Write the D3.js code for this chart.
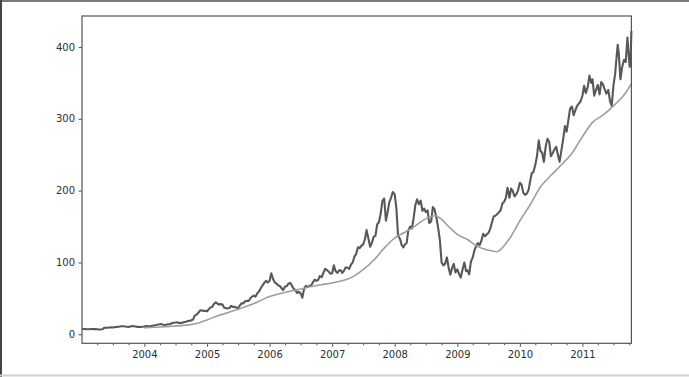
<!DOCTYPE html>
<html>
<head>
<meta charset="utf-8">
<script src="https://cdn.jsdelivr.net/npm/d3@7"></script>
<style>
    html, body { margin: 0; padding: 0; background: #fff; }
    svg { display: block; }
    .axis text { font-family: "DejaVu Sans", sans-serif; font-size: 10px; fill: #2e2e2e; }
    .axis line { stroke: #555; }
</style>
</head>
<body>
<svg class="chart"></svg>
<script>
'use strict';

var CHART_WIDTH = 689;
var CHART_HEIGHT = 377;
var CHART_MARGIN = { top: 16, right: 57.6, bottom: 33.7, left: 82 };

// closing price (three samples a month)
var priceDates = [
    "2003-01-02","2003-01-11","2003-01-21","2003-02-01","2003-02-11","2003-02-21","2003-03-01","2003-03-11","2003-03-21","2003-04-01","2003-04-11","2003-04-21",
    "2003-05-01","2003-05-11","2003-05-21","2003-06-01","2003-06-11","2003-06-21","2003-07-01","2003-07-11","2003-07-21","2003-08-01","2003-08-11","2003-08-21",
    "2003-09-01","2003-09-11","2003-09-21","2003-10-01","2003-10-11","2003-10-21","2003-11-01","2003-11-11","2003-11-21","2003-12-01","2003-12-11","2003-12-21",
    "2004-01-01","2004-01-11","2004-01-21","2004-02-01","2004-02-11","2004-02-21","2004-03-01","2004-03-11","2004-03-21","2004-04-01","2004-04-11","2004-04-21",
    "2004-05-01","2004-05-11","2004-05-21","2004-06-01","2004-06-11","2004-06-21","2004-07-01","2004-07-11","2004-07-21","2004-08-01","2004-08-11","2004-08-21",
    "2004-09-01","2004-09-11","2004-09-21","2004-10-01","2004-10-11","2004-10-21","2004-11-01","2004-11-11","2004-11-21","2004-12-01","2004-12-11","2004-12-21",
    "2005-01-01","2005-01-11","2005-01-21","2005-02-01","2005-02-11","2005-02-21","2005-03-01","2005-03-11","2005-03-21","2005-04-01","2005-04-11","2005-04-21",
    "2005-05-01","2005-05-11","2005-05-21","2005-06-01","2005-06-11","2005-06-21","2005-07-01","2005-07-11","2005-07-21","2005-08-01","2005-08-11","2005-08-21",
    "2005-09-01","2005-09-11","2005-09-21","2005-10-01","2005-10-11","2005-10-21","2005-11-01","2005-11-11","2005-11-21","2005-12-01","2005-12-11","2005-12-21",
    "2006-01-01","2006-01-11","2006-01-21","2006-02-01","2006-02-11","2006-02-21","2006-03-01","2006-03-11","2006-03-21","2006-04-01","2006-04-11","2006-04-21",
    "2006-05-01","2006-05-11","2006-05-21","2006-06-01","2006-06-11","2006-06-21","2006-07-01","2006-07-11","2006-07-21","2006-08-01","2006-08-11","2006-08-21",
    "2006-09-01","2006-09-11","2006-09-21","2006-10-01","2006-10-11","2006-10-21","2006-11-01","2006-11-11","2006-11-21","2006-12-01","2006-12-11","2006-12-21",
    "2007-01-01","2007-01-11","2007-01-21","2007-02-01","2007-02-11","2007-02-21","2007-03-01","2007-03-11","2007-03-21","2007-04-01","2007-04-11","2007-04-21",
    "2007-05-01","2007-05-11","2007-05-21","2007-06-01","2007-06-11","2007-06-21","2007-07-01","2007-07-11","2007-07-21","2007-08-01","2007-08-11","2007-08-21",
    "2007-09-01","2007-09-11","2007-09-21","2007-10-01","2007-10-11","2007-10-21","2007-11-01","2007-11-11","2007-11-21","2007-12-01","2007-12-11","2007-12-21",
    "2008-01-01","2008-01-11","2008-01-21","2008-02-01","2008-02-11","2008-02-21","2008-03-01","2008-03-11","2008-03-21","2008-04-01","2008-04-11","2008-04-21",
    "2008-05-01","2008-05-11","2008-05-21","2008-06-01","2008-06-11","2008-06-21","2008-07-01","2008-07-11","2008-07-21","2008-08-01","2008-08-11","2008-08-21",
    "2008-09-01","2008-09-11","2008-09-21","2008-10-01","2008-10-11","2008-10-21","2008-11-01","2008-11-11","2008-11-21","2008-12-01","2008-12-11","2008-12-21",
    "2009-01-01","2009-01-11","2009-01-21","2009-02-01","2009-02-11","2009-02-21","2009-03-01","2009-03-11","2009-03-21","2009-04-01","2009-04-11","2009-04-21",
    "2009-05-01","2009-05-11","2009-05-21","2009-06-01","2009-06-11","2009-06-21","2009-07-01","2009-07-11","2009-07-21","2009-08-01","2009-08-11","2009-08-21",
    "2009-09-01","2009-09-11","2009-09-21","2009-10-01","2009-10-11","2009-10-21","2009-11-01","2009-11-11","2009-11-21","2009-12-01","2009-12-11","2009-12-21",
    "2010-01-01","2010-01-11","2010-01-21","2010-02-01","2010-02-11","2010-02-21","2010-03-01","2010-03-11","2010-03-21","2010-04-01","2010-04-11","2010-04-21",
    "2010-05-01","2010-05-11","2010-05-21","2010-06-01","2010-06-11","2010-06-21","2010-07-01","2010-07-11","2010-07-21","2010-08-01","2010-08-11","2010-08-21",
    "2010-09-01","2010-09-11","2010-09-21","2010-10-01","2010-10-11","2010-10-21","2010-11-01","2010-11-11","2010-11-21","2010-12-01","2010-12-11","2010-12-21",
    "2011-01-01","2011-01-11","2011-01-21","2011-02-01","2011-02-11","2011-02-21","2011-03-01","2011-03-11","2011-03-21","2011-04-01","2011-04-11","2011-04-21",
    "2011-05-01","2011-05-11","2011-05-21","2011-06-01","2011-06-11","2011-06-21","2011-07-01","2011-07-11","2011-07-21","2011-07-26","2011-08-01","2011-08-11",
    "2011-08-21","2011-09-01","2011-09-11","2011-09-21","2011-10-01","2011-10-04","2011-10-10","2011-10-14"
];
var priceValues = [
    7.4, 7.5, 7.3, 7.1, 7.0, 7.5, 7.5, 7.2, 7.3, 7.1, 6.7, 6.8,
    7.1, 9.0, 9.2, 9.1, 9.4, 9.6, 9.5, 9.9, 10.3, 10.6, 10.9, 11.3,
    11.3, 10.8, 10.5, 10.2, 11.0, 11.5, 11.2, 10.8, 10.3, 10.5, 10.2, 10.6,
    10.8, 11.5, 11.3, 11.2, 11.7, 11.8, 12.5, 13.0, 13.6, 13.9, 14.2, 13.3,
    13.0, 13.6, 14.1, 14.3, 15.6, 16.1, 16.4, 16.8, 15.9, 15.8, 16.3, 17.2,
    17.4, 18.8, 18.5, 19.5, 20.5, 26.0, 27.5, 30.0, 33.0, 33.5, 32.5, 32.8,
    32.0, 35.0, 37.5, 38.5, 42.5, 44.5, 43.0, 41.5, 42.0, 41.5, 37.0, 36.5,
    36.0, 36.5, 39.5, 38.0, 38.5, 37.0, 36.5, 40.0, 43.0, 43.0, 46.0, 46.5,
    46.5, 50.0, 52.5, 54.0, 52.5, 57.0, 60.0, 64.5, 68.0, 71.5, 74.5, 72.0,
    74.5, 85.0, 77.0, 72.0, 70.5, 68.0, 67.5, 64.5, 61.5, 66.5, 67.0, 70.5,
    71.5, 68.0, 63.5, 61.5, 57.5, 59.0, 57.0, 51.0, 63.0, 67.5, 66.0, 67.5,
    68.0, 72.5, 76.0, 74.5, 75.5, 81.0, 79.5, 85.5, 91.0, 89.5, 87.5, 84.5,
    85.0, 96.0, 88.0, 85.5, 89.0, 89.0, 85.5, 88.5, 93.0, 93.0, 91.0, 97.0,
    100.0, 108.0, 112.0, 121.0, 120.0, 123.5, 125.0, 132.0, 145.0, 133.0, 122.0, 127.0,
    136.0, 137.0, 153.0, 156.0, 167.0, 185.0, 189.0, 158.0, 170.0, 184.0, 190.0, 198.0,
    195.0, 176.0, 137.0, 133.0, 124.5, 121.0, 125.0, 127.0, 145.0, 150.0, 147.0, 162.0,
    180.0, 188.0, 181.0, 186.0, 172.0, 175.0, 170.0, 172.5, 155.0, 157.0, 177.0, 174.0,
    162.0, 148.0, 131.0, 100.0, 96.0, 98.0, 107.0, 93.0, 83.0, 92.0, 98.0, 86.0,
    90.5, 84.0, 79.0, 91.0, 100.0, 88.0, 89.0, 83.5, 101.0, 107.0, 117.0, 123.0,
    127.0, 124.0, 130.0, 140.0, 136.5, 139.0, 141.0, 146.0, 155.0, 164.0, 165.0, 167.0,
    170.0, 173.0, 182.0, 184.5, 190.0, 204.0, 190.0, 203.0, 199.0, 192.0, 195.0, 200.0,
    211.0, 208.0, 197.0, 194.0, 196.0, 201.0, 212.0, 224.0, 226.0, 236.0, 248.0, 270.0,
    255.0, 253.0, 240.0, 262.0, 272.0, 268.0, 248.0, 252.0, 257.0, 261.0, 250.0, 240.0,
    257.0, 272.0, 290.0, 282.0, 298.0, 314.0, 317.0, 305.0, 312.0, 318.0, 321.0, 324.0,
    332.0, 346.0, 336.0, 344.0, 360.0, 350.0, 355.0, 332.0, 340.0, 347.0, 334.0, 351.0,
    348.0, 341.0, 335.0, 340.0, 325.0, 318.0, 346.0, 362.0, 390.0, 403.0, 392.0, 355.0,
    372.0, 382.0, 379.0, 413.0, 381.0, 372.0, 388.0, 422.0
];

// 250 day moving average
var avgDates = [
    "2003-12-31","2004-03-01","2004-06-01","2004-09-01","2004-11-01","2005-01-01","2005-03-01","2005-05-01",
    "2005-07-01","2005-09-01","2005-11-01","2006-01-01","2006-03-01","2006-05-01","2006-07-01","2006-09-01",
    "2006-11-01","2007-01-01","2007-03-01","2007-05-01","2007-07-01","2007-09-01","2007-11-01","2008-01-01",
    "2008-03-01","2008-05-01","2008-07-01","2008-08-25","2008-10-01","2008-11-15","2009-01-01","2009-03-01",
    "2009-05-01","2009-07-01","2009-08-20","2009-09-10","2009-11-01","2010-01-01","2010-03-01","2010-05-01",
    "2010-07-01","2010-09-01","2010-11-01","2011-01-01","2011-03-01","2011-05-01","2011-07-01","2011-09-01",
    "2011-10-14"
];
var avgValues = [
    9.0, 9.8, 11.0, 12.8, 15.0, 20.0, 25.5, 30.0,
    35.0, 40.0, 46.0, 52.5, 56.5, 60.0, 63.0, 66.5,
    69.0, 71.5, 74.5, 80.0, 90.0, 103.0, 120.0, 134.0,
    142.0, 151.0, 161.0, 165.0, 160.0, 149.0, 139.0, 132.0,
    122.0, 117.0, 115.0, 118.0, 133.0, 158.0, 180.0, 205.0,
    221.0, 236.0, 252.0, 275.0, 295.0, 305.0, 318.0, 333.0,
    349.0
];

var yTickValues = [0, 100, 200, 300, 400];
var yearTicks = ["2004", "2005", "2006", "2007", "2008", "2009", "2010", "2011"];
var dateRange = ["2003-01-02", "2011-10-14"];
var valueRange = [-12.5, 443];

var parseDate = d3.timeParse("%Y-%m-%d");

/**
 * Pair up a list of dates with a list of values
 * @param {Array} dates date strings
 * @param {Array} values numbers
 * @return {Array} rows with date and value
 */
function zipSeries(dates, values) {
    return dates.map(function (d, i) {
        return { date: parseDate(d), value: values[i] };
    });
}

var chartWidth = CHART_WIDTH - CHART_MARGIN.left - CHART_MARGIN.right;
var chartHeight = CHART_HEIGHT - CHART_MARGIN.top - CHART_MARGIN.bottom;

var xScale = d3.scaleTime()
    .domain(dateRange.map(parseDate))
    .range([0, chartWidth]);

var yScale = d3.scaleLinear()
    .domain(valueRange)
    .range([chartHeight, 0]);

var svg = d3.select(".chart")
    .attr("width", CHART_WIDTH)
    .attr("height", CHART_HEIGHT);

// picture border
svg.append("line").attr("x1", 0).attr("x2", CHART_WIDTH).attr("y1", 1).attr("y2", 1)
    .attr("stroke", "#7a7a7a").attr("stroke-width", 2);
svg.append("line").attr("x1", 1).attr("x2", 1).attr("y1", 0).attr("y2", CHART_HEIGHT)
    .attr("stroke", "#444").attr("stroke-width", 2);
svg.append("line").attr("x1", 0).attr("x2", CHART_WIDTH).attr("y1", 375.5).attr("y2", 375.5)
    .attr("stroke", "#cfcfcf").attr("stroke-width", 2);

var inner = svg.append("g")
    .attr("transform", "translate(" + CHART_MARGIN.left + "," + CHART_MARGIN.top + ")");

// y axis
var yAxis = d3.axisLeft(yScale)
    .tickValues(yTickValues)
    .tickSize(3.5)
    .tickPadding(3.5)
    .tickSizeOuter(0);
inner.append("g").attr("class", "axis y").call(yAxis)
    .call(function (g) { g.select(".domain").remove(); });

// x axis, years plus quarterly minor ticks
var yearDates = yearTicks.map(function (y) { return parseDate(y + "-01-01"); });
var quarterDates = d3.timeMonth.every(3).range(xScale.domain()[0], xScale.domain()[1])
    .filter(function (d) { return d.getMonth() !== 0; });

var xAxis = d3.axisBottom(xScale)
    .tickValues(yearDates)
    .tickFormat(d3.timeFormat("%Y"))
    .tickSize(3.5)
    .tickPadding(4.5)
    .tickSizeOuter(0);
inner.append("g").attr("class", "axis x")
    .attr("transform", "translate(0," + chartHeight + ")")
    .call(xAxis)
    .call(function (g) { g.select(".domain").remove(); });

var xMinor = d3.axisBottom(xScale)
    .tickValues(quarterDates)
    .tickFormat("")
    .tickSize(2)
    .tickSizeOuter(0);
inner.append("g").attr("class", "axis minor")
    .attr("transform", "translate(0," + chartHeight + ")")
    .call(xMinor)
    .call(function (g) { g.select(".domain").remove(); });

var line = d3.line()
    .x(function (d) { return xScale(d.date); })
    .y(function (d) { return yScale(d.value); });

inner.append("path")
    .datum(zipSeries(priceDates, priceValues))
    .attr("fill", "none")
    .attr("stroke", "#585858")
    .attr("stroke-width", 2.1)
    .attr("stroke-linejoin", "round")
    .attr("d", line);

inner.append("path")
    .datum(zipSeries(avgDates, avgValues))
    .attr("fill", "none")
    .attr("stroke", "#9e9e9e")
    .attr("stroke-width", 1.6)
    .attr("d", line.curve(d3.curveMonotoneX));

// frame
inner.append("rect")
    .attr("width", chartWidth)
    .attr("height", chartHeight)
    .attr("fill", "none")
    .attr("stroke", "#555")
    .attr("stroke-width", 1.2);
</script>
</body>
</html>
